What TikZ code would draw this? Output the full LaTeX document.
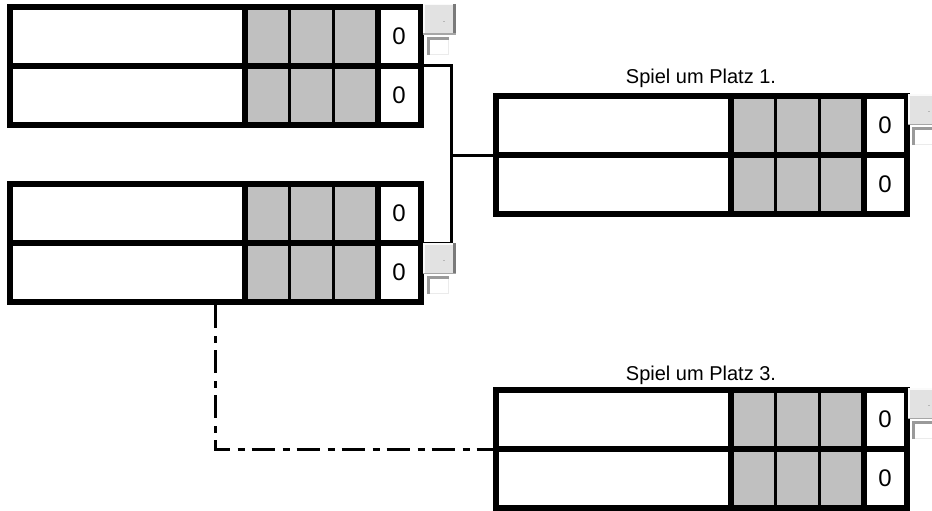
\documentclass[tikz,border=0pt]{standalone}
\usepackage{fontspec}
\setmainfont{Liberation Sans}
\definecolor{cellgray}{HTML}{C0C0C0}
\definecolor{btnface}{HTML}{E2E2E2}
\definecolor{btndark}{HTML}{7A7A7A}
\definecolor{btnlight}{HTML}{FAFAFA}
\definecolor{boxedge}{HTML}{9A9A9A}
\definecolor{boxlight}{HTML}{EBEBEB}

\tikzset{
  frame/.style={draw=black, line width=6pt, minimum width=411pt, minimum height=118pt, inner sep=0pt},
  heavy/.style={draw=black, line width=6pt},
  light/.style={draw=black, line width=3pt},
  score/.style={font=\fontsize{24}{28}\selectfont, inner sep=0pt},
  caption/.style={font=\fontsize{20}{24}\selectfont, anchor=base, inner sep=0pt},
  bracket/.style={draw=black, line width=3pt},
  dashdot/.style={draw=black, line width=3pt, dash pattern=on 23pt off 8pt on 7pt off 7pt},
  btnbox/.style={fill=btnface, minimum width=33pt, minimum height=31pt, inner sep=0pt, outer sep=0pt},
  btnmark/.style={font=\fontsize{6}{6}\selectfont, text=black!60, inner sep=0pt},
  checkbox/.style={fill=white, minimum width=22pt, minimum height=18pt, inner sep=0pt, outer sep=0pt},
}

% #1 name, #2 x, #3 y of the outer top-left corner
\newcommand\matchblk[3]{%
  \fill[cellgray] (#2+241,#3+3) rectangle (#2+371,#3+121);
  \draw[light] (#2+282.5,#3+3) -- (#2+282.5,#3+121);
  \draw[light] (#2+326.5,#3+3) -- (#2+326.5,#3+121);
  \node[frame] (#1) at (#2+208.5,#3+62) {};
  \draw[heavy] (#1.west) -- (#1.east);
  \draw[heavy] (#2+238,#3+3) -- (#2+238,#3+121);
  \draw[heavy] (#2+371,#3+3) -- (#2+371,#3+121);
  \node[score] (#1-s1) at (#2+392,#3+32) {0};
  \node[score] (#1-s2) at (#2+392,#3+91) {0};
}

% #1 name, #2 x, #3 y of the button's top-left corner
\newcommand\scorebtn[3]{%
  \node[btnbox] (#1) at (#2+16.5,#3+15.5) {};
  \draw[btnlight, line width=1.5pt] (#2+0.75,#3+31) -- (#2+0.75,#3+0.75) -- (#2+33,#3+0.75);
  \draw[btndark, line width=3pt] (#2+31.5,#3) -- (#2+31.5,#3+31);
  \draw[black!35, line width=1.5pt] (#2,#3+30.25) -- (#2+33,#3+30.25);
  \node[btnmark] (#1-m) at (#2+21,#3+19) {-};
  \node[checkbox] (#1-c) at (#2+15,#3+42) {};
  \draw[boxlight, line width=1pt] (#2+4,#3+50.5) -- (#2+25.5,#3+50.5) -- (#2+25.5,#3+33);
  \draw[boxedge, line width=3pt] (#2+5.5,#3+51) -- (#2+5.5,#3+34.5) -- (#2+26,#3+34.5);
}

\begin{document}
\begin{tikzpicture}[x=1pt, y=-1pt]
  \useasboundingbox (0,0) rectangle (932,511);
  \clip (0,0) rectangle (932,511);

  \coordinate (bx) at (451.5,0);
  \coordinate (dx) at (215.5,0);

  \matchblk{b1}{7}{4}
  \matchblk{b2}{7}{181}
  \matchblk{b3}{493}{93}
  \matchblk{b4}{493}{387}

  \draw[bracket] (b1.east) -- (b1.east -| bx) -- (b2.east -| bx) -- (b2.east);
  \draw[bracket] (b3.west -| bx) -- (b3.west);
  \draw[dashdot] (b2.south -| dx) |- (b4.west);

  \scorebtn{k1}{423}{4}
  \scorebtn{k2}{423}{243}
  \scorebtn{k3}{908}{94}
  \scorebtn{k4}{908}{388}

  \node[caption] (t1) at (701,84) {Spiel um Platz 1.};
  \node[caption] (t3) at (701,380) {Spiel um Platz 3.};
\end{tikzpicture}
\end{document}
